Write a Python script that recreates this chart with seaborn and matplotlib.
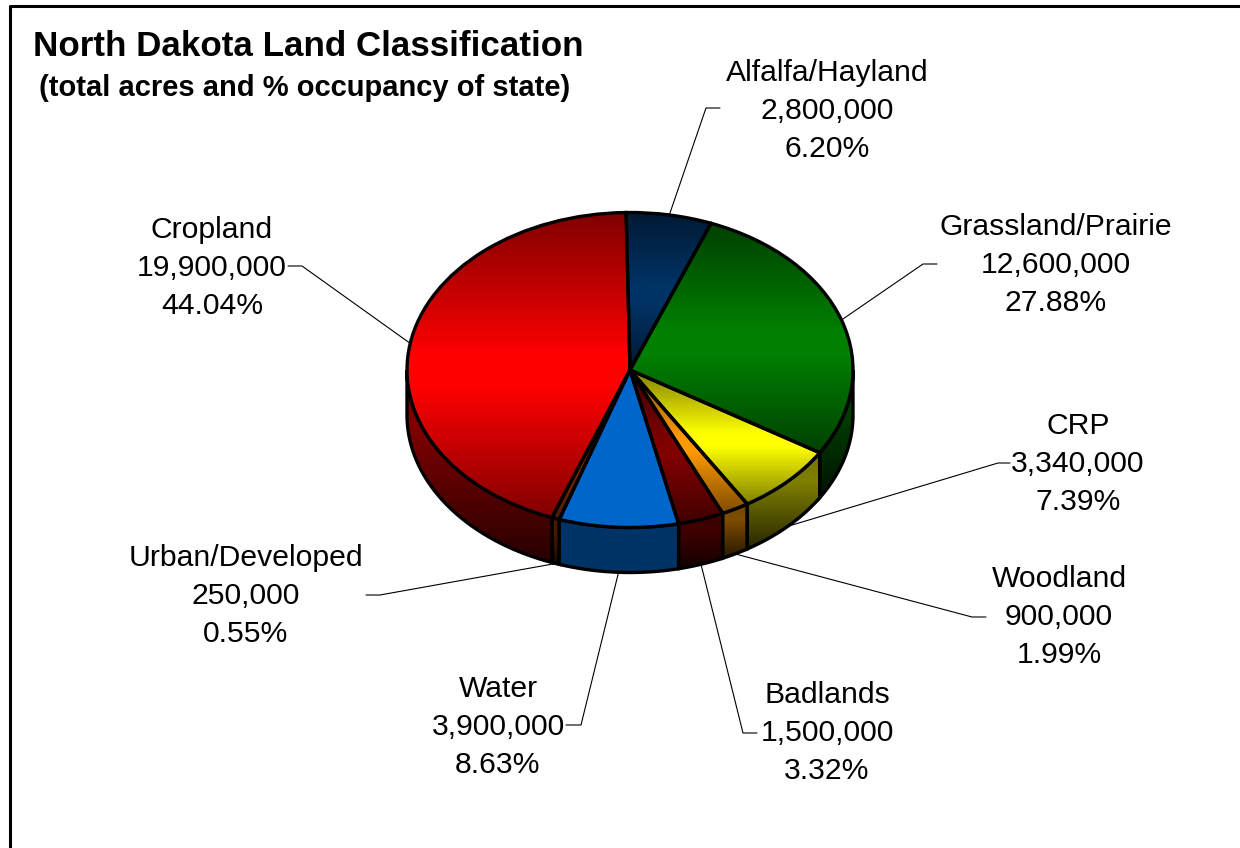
import matplotlib.pyplot as plt
import numpy as np
import seaborn as sns
from matplotlib.patches import Polygon
from matplotlib.transforms import Affine2D

categories = ["Alfalfa/Hayland", "Grassland/Prairie", "CRP", "Woodland",
              "Badlands", "Water", "Urban/Developed", "Cropland"]
acres = [2800000, 12600000, 3340000, 900000, 1500000, 3900000, 250000, 19900000]
percents = ["6.20%", "27.88%", "7.39%", "1.99%", "3.32%", "8.63%", "0.55%", "44.04%"]
colors = ["#003366", "#008000", "#FFFF00", "#FF9900",
          "#800000", "#0066CC", "#993300", "#FF0000"]

# layout is in reference pixels
WIDTH, HEIGHT = 1240, 848
CX, CY, RX, RY, DEPTH = 630, 370, 223, 157.5, 45
START = -1  # degrees clockwise from 12 o'clock
EDGE = 2.4

# label centre x, middle line y, then the two free points of the leader
label_pos = {
    "Alfalfa/Hayland": (827, 111, (720, 108), (706, 108)),
    "Grassland/Prairie": (1056, 265, (937, 264), (923, 264)),
    "CRP": (1078, 464, (1010, 463), (998, 463)),
    "Woodland": (1059, 617, (986, 617), (972, 617)),
    "Badlands": (827, 733, (757, 733), (743, 733)),
    "Water": (498, 727, (566, 725), (581, 725)),
    "Urban/Developed": (246, 596, (366, 595), (380, 595)),
    "Cropland": (212, 268, (288, 266), (302, 266)),
}


def to_data(px, py):
    return (px - CX) / RX, (CY - py) / RY


def rim(a1, a2, drop=0.0):
    # points on the ellipse, angles clockwise from the top
    t = np.radians(np.linspace(a1, a2, 80))
    return np.column_stack([np.sin(t), np.cos(t) - drop])


def add_gradient(ax, patch, color, y0, y1, stops, levels):
    t = np.linspace(0, 1, 256)
    shade = np.interp(t, stops, levels)
    rgb = np.array(sns.color_palette([color])[0])
    img = shade[:, None, None] * rgb[None, None, :]
    im = ax.imshow(img, extent=(-1.1, 1.1, y0, y1), origin="upper",
                   aspect="auto", zorder=patch.get_zorder() - 0.5)
    im.set_clip_path(patch)


sns.set_theme(style="white")
plt.rcParams["font.family"] = ["Liberation Sans", "DejaVu Sans"]
plt.rcParams["text.color"] = "black"

fig = plt.figure(figsize=(WIDTH / 100, HEIGHT / 100), dpi=100)
ax = fig.add_axes([0, 0, 1, 1])

wedges, _ = ax.pie(
    acres,
    colors=colors,
    startangle=90 - START,
    counterclock=False,
    radius=1,
    wedgeprops={"edgecolor": "black", "linewidth": EDGE},
)

fractions = np.array(acres) / np.sum(acres)
ends = START + 360 * np.cumsum(fractions)
starts = ends - 360 * fractions
drop = DEPTH / RY

for i, wedge in enumerate(wedges):
    a1, a2 = starts[i], ends[i]
    name = categories[i]
    flat = name == "Water"

    # top face
    pts = rim(a1, a2)
    y0, y1 = min(pts[:, 1].min(), 0), max(pts[:, 1].max(), 0)
    wedge.set_zorder(5)
    add_gradient(ax, wedge, colors[i], y0, y1, [0, 0.47, 0.57, 1],
                 [1, 1, 1, 1] if flat else [0.5, 1, 1, 0.5])
    wedge.set_facecolor("none")

    # side wall, only the front half shows
    s1, s2 = max(a1, 90), min(a2, 270)
    if s1 < s2:
        upper = rim(s1, s2)
        lower = rim(s1, s2, drop)
        wall = Polygon(np.vstack([upper, lower[::-1]]), closed=True,
                       facecolor="none", edgecolor="black",
                       linewidth=EDGE, zorder=3)
        ax.add_patch(wall)
        y0, y1 = lower[:, 1].min(), upper[:, 1].max()
        add_gradient(ax, wall, colors[i], y0, y1, [0, 0.3, 1],
                     [0.5, 0.5, 0.5] if flat else [0.45, 0.5, 0.15])

    # leader runs from the label out to the middle of the slice
    mid = np.radians((a1 + a2) / 2)
    ex, ey = np.sin(mid), np.cos(mid)
    if ey < 0:
        ey -= drop
    cx, mid_y, p1, p2 = label_pos[name]
    xs, ys = zip(to_data(*p1), to_data(*p2), (ex, ey))
    ax.plot(xs, ys, color="black", lw=0.8, zorder=1)

    lines = [name, f"{acres[i]:,}", percents[i]]
    for line, offset in zip(lines, (-38, 0, 38)):
        tx, ty = to_data(cx, mid_y + offset)
        ax.text(tx, ty, line, ha="center", va="center", fontsize=21.7, color="black")

ax.set_aspect("auto")
ax.set_xlim(-CX / RX, (WIDTH - CX) / RX)
ax.set_ylim((CY - HEIGHT) / RY, CY / RY)
ax.axis("off")

# slide border, open at the right and the bottom
px = Affine2D().scale(1, -1).translate(0, HEIGHT)
fig.add_artist(plt.Line2D([10, 10, 1240], [HEIGHT, 5.5, 5.5], color="black", lw=2.2,
                          transform=px))

fig.text(33 / WIDTH, 1 - 46 / HEIGHT, "North Dakota Land Classification",
         fontsize=25.2, fontweight="bold", ha="left", va="center")
fig.text(39 / WIDTH, 1 - 88 / HEIGHT, "(total acres and % occupancy of state)",
         fontsize=21, fontweight="bold", ha="left", va="center")

fig.savefig("out.png", dpi=100)
